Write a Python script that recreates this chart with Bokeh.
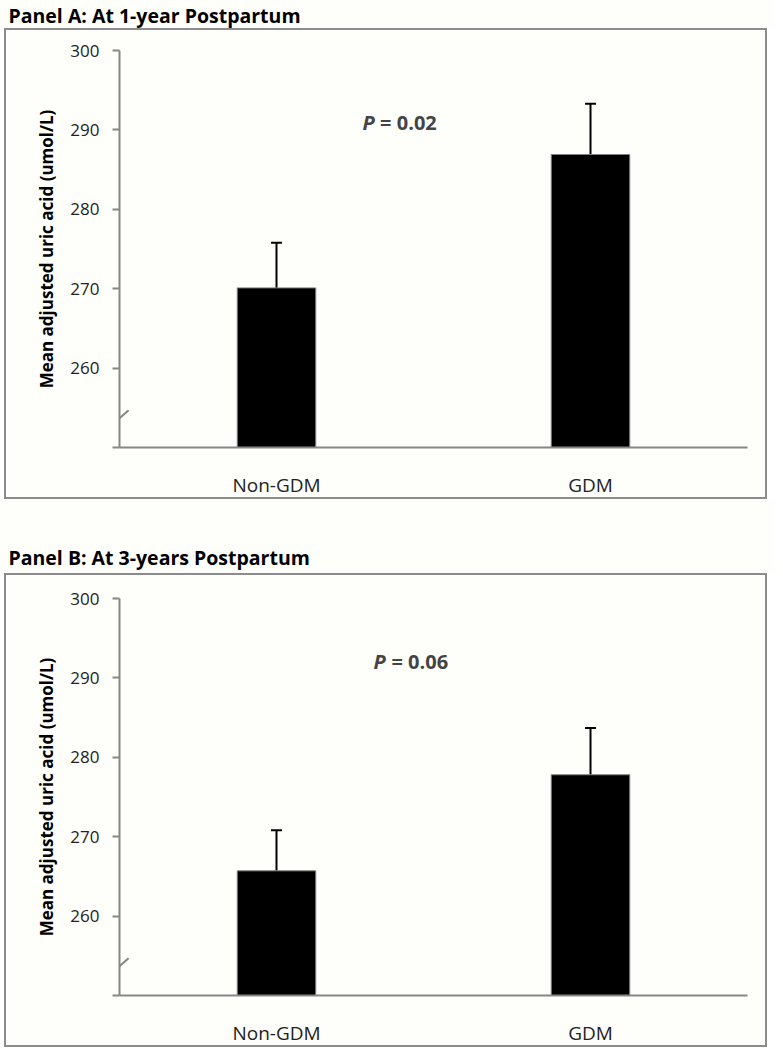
from bokeh.plotting import figure
from bokeh.models import (Range1d, FactorRange, Label, Whisker, TeeHead,
                          ColumnDataSource, Arrow, FixedTicker)
from bokeh.layouts import column
from bokeh.embed import file_html
from bokeh.resources import INLINE

categories = ["Non-GDM", "GDM"]
mean_1yr = [270.1, 286.9]
err_1yr = [5.7, 6.4]
mean_3yr = [265.7, 277.8]
err_3yr = [5.1, 5.9]
y_ticks = [250, 260, 270, 280, 290, 300]
titles = ["Panel A: At 1-year Postpartum", "Panel B: At 3-years Postpartum"]
p_texts = ["= 0.02", "= 0.06"]
y_label = "Mean adjusted uric acid (umol/L)"

FONT = "Open Sans"
BG = "#fefefb"
GRAY = "#868686"
BOX = "#8c8c8c"


def title_fig(text, h, base_from_top):
    t = figure(width=775, height=h, x_range=Range1d(0, 775), y_range=Range1d(0, h),
               toolbar_location=None, output_backend="svg", min_border=0,
               x_axis_location=None, y_axis_location=None, title_location=None,
               outline_line_color=None, background_fill_color=BG, border_fill_color=BG)
    t.frame_align = False
    t.grid.visible = False
    t.add_layout(Label(x=8, y=h - base_from_top + 6, text=text, text_font=FONT,
                       text_font_style="bold", text_font_size="19.5px",
                       text_baseline="alphabetic", text_color="#000000"))
    return t


def panel(means, errs, ptext, p_pos, top_border, height):
    src = ColumnDataSource(dict(cat=categories, mean=means,
                                upper=[m + e for m, e in zip(means, errs)]))
    p = figure(width=763, height=height, x_range=FactorRange(*categories),
               y_range=Range1d(250, 300), toolbar_location=None, output_backend="svg",
               title_location=None,
               min_border_left=113, min_border_right=22, min_border_top=top_border,
               min_border_bottom=54, outline_line_color=None,
               background_fill_color=BG, border_fill_color=BG)
    p.frame_align = False
    p.grid.visible = False
    p.vbar(x="cat", top="mean", bottom=250, width=0.25, source=src,
           fill_color="black", line_color="#808080", line_width=1)
    p.add_layout(Whisker(base="cat", lower="mean", upper="upper", source=src,
                         line_color="black", line_width=2, lower_head=None,
                         upper_head=TeeHead(size=11, line_width=2, line_color="black")))
    ya = p.yaxis[0]
    ya.ticker = FixedTicker(ticks=y_ticks)
    ya.major_label_overrides = {250: ""}
    ya.axis_line_color = GRAY
    ya.axis_line_width = 2
    ya.major_tick_line_color = GRAY
    ya.major_tick_line_width = 2
    ya.major_tick_out = 7
    ya.major_tick_in = 0
    ya.minor_tick_line_color = None
    ya.major_label_standoff = 13
    ya.major_label_text_font = FONT
    ya.major_label_text_font_size = "17px"
    ya.major_label_text_color = "#222222"
    ya.axis_label = y_label
    ya.axis_label_text_font = FONT
    ya.axis_label_text_font_style = "bold"
    ya.axis_label_text_font_size = "17px"
    ya.axis_label_text_color = "#000000"
    ya.axis_label_standoff = 9
    xa = p.xaxis[0]
    xa.axis_line_color = GRAY
    xa.axis_line_width = 2
    xa.major_tick_line_color = None
    xa.minor_tick_line_color = None
    xa.major_label_standoff = 18
    xa.major_label_text_font = FONT
    xa.major_label_text_font_size = "19px"
    xa.major_label_text_color = "#222222"
    # axis break marker
    p.add_layout(Arrow(end=None, start=None, x_start=-0.029, y_start=252.7,
                       x_end=0.029, y_end=254.7, line_color=GRAY, line_width=2))
    px, py, px2 = p_pos
    p.add_layout(Label(x=px, y=py, text="P", text_font=FONT, text_font_style="bold italic",
                       text_font_size="20px", text_baseline="alphabetic"))
    p.add_layout(Label(x=px2, y=py, text=ptext, text_font=FONT, text_font_style="bold",
                       text_font_size="20px", text_baseline="alphabetic"))
    p.styles = {"border": f"2px solid {BOX}"}
    p.margin = (0, 0, 0, 4)
    return p


tA = title_fig(titles[0], 28, 21)
pA = panel(mean_1yr, err_1yr, p_texts[0], (0.774, 290.9, 0.83), 20, 471)
tB = title_fig(titles[1], 74, 64)
pB = panel(mean_3yr, err_3yr, p_texts[1], (0.809, 292.1, 0.866), 23, 474)

layout = column(tA, pA, tB, pB, spacing=0)
open("out.html", "w").write(file_html(layout, INLINE))
